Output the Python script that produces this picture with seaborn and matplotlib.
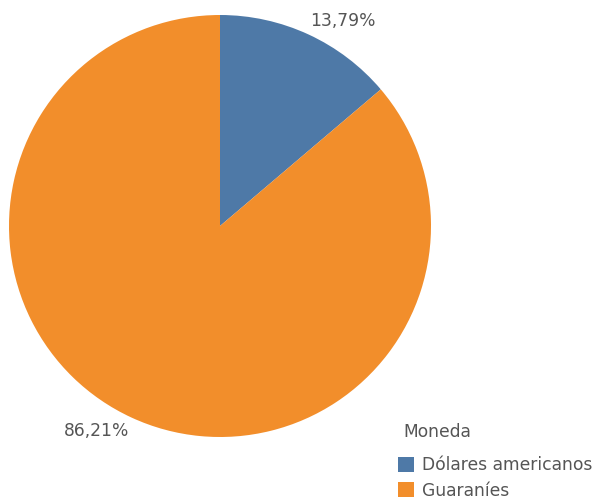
import matplotlib
matplotlib.use("Agg")
import matplotlib.pyplot as plt
import seaborn as sns
from matplotlib.patches import Patch

sns.set_theme(style="white")
plt.rcParams["font.family"] = ["DejaVu Sans"]

# Currency composition
categories = ["Dólares americanos", "Guaraníes"]
shares = [13.79, 86.21]
labels = ["13,79%", "86,21%"]
palette = sns.color_palette(["#4e79a7", "#f28e2b"])

W, H = 596, 499
fig = plt.figure(figsize=(W / 100, H / 100), dpi=100)
ax = fig.add_axes([0, 0, 1, 1])

cx, cy, r = 220, H - 226, 211
ax.pie(shares, colors=palette, startangle=90, counterclock=False,
       center=(cx, cy), radius=r, frame=True, wedgeprops=dict(linewidth=0))
ax.set_xlim(0, W)
ax.set_ylim(0, H)
ax.set_aspect("equal")
ax.axis("off")

txt = "#555555"
fs = 12.3
ax.text(343, H - 21, labels[0], ha="center", va="center", fontsize=fs, color=txt)
ax.text(97, H - 431, labels[1], ha="center", va="center", fontsize=fs, color=txt)

# legend title and entries
ax.text(403, H - 432, "Moneda", ha="left", va="center", fontsize=fs, color=txt)
handles = [Patch(facecolor=c, edgecolor="none") for c in palette]
leg = fig.legend(handles, categories, loc="center left",
                 bbox_to_anchor=(398 / W, 1 - 478 / H), frameon=False,
                 fontsize=fs, handlelength=0.95, handleheight=0.95,
                 handletextpad=0.45, labelspacing=0.42,
                 borderaxespad=0, borderpad=0)
for t in leg.get_texts():
    t.set_color(txt)

fig.savefig("out.png", dpi=100, facecolor="white")
